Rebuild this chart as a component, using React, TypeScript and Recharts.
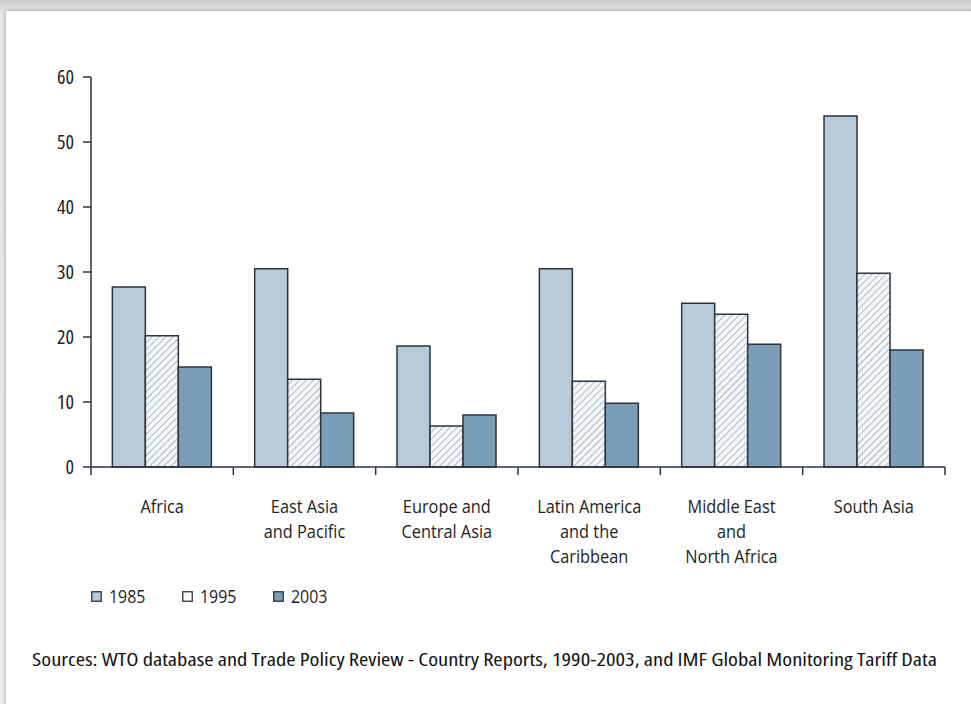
import React from "react";
import { BarChart, Bar, XAxis, YAxis, Legend } from "recharts";

const categories = ["Africa", "East Asia and Pacific", "Europe and Central Asia", "Latin America and the Caribbean", "Middle East and North Africa", "South Asia"];
const categoryLabelLines = [
  ["Africa"],
  ["East Asia", "and Pacific"],
  ["Europe and", "Central Asia"],
  ["Latin America", "and the", "Caribbean"],
  ["Middle East", "and", "North Africa"],
  ["South Asia"],
];
const series1985 = [27.7, 30.5, 18.6, 30.5, 25.2, 54.0];
const series1995 = [20.2, 13.5, 6.3, 13.2, 23.5, 29.8];
const series2003 = [15.4, 8.3, 8.0, 9.8, 18.9, 18.0];
const yTicks = [0, 10, 20, 30, 40, 50, 60];
const sourceText = "Sources: WTO database and Trade Policy Review - Country Reports, 1990-2003, and IMF Global Monitoring Tariff Data";

const data = categories.map((name, i) => ({
  name,
  y1985: series1985[i],
  y1995: series1995[i],
  y2003: series2003[i],
}));

const FONT = "'Open Sans', 'DejaVu Sans', sans-serif";
const STROKE = "#2b333c";

const CatTick = (props: any) => {
  const { x, y, payload, index } = props;
  const lines = categoryLabelLines[index] || [payload.value];
  const half = payload.offset || 0;
  return (
    <g>
      <line x1={x - half} x2={x - half} y1={y} y2={y + 8} stroke={STROKE} strokeWidth={1.5} />
      {index === categories.length - 1 && (
        <line x1={x + half} x2={x + half} y1={y} y2={y + 8} stroke={STROKE} strokeWidth={1.5} />
      )}
      <g transform={`translate(${x},${y}) scale(0.86,1)`}>
        {lines.map((l: string, k: number) => (
          <text key={k} x={0} y={46 + k * 25} textAnchor="middle" fill="#1e1e1e" fontSize={19} fontFamily={FONT}>
            {l}
          </text>
        ))}
      </g>
    </g>
  );
};

const legendItems = [
  { key: "1985", fill: "#b8cad8" },
  { key: "1995", fill: "#ffffff" },
  { key: "2003", fill: "#7b9eb6" },
];

const LegendContent = () => (
  <svg width={300} height={30} style={{ display: "block", overflow: "visible" }}>
    {legendItems.map((it, i) => (
      <g key={it.key} transform={`translate(${i * 91},0)`}>
        <rect x={0.75} y={7.75} width={9.5} height={9.5} fill={it.fill} stroke={STROKE} strokeWidth={1.3} />
        <g transform="translate(18,19) scale(0.84,1)">
          <text x={0} y={0} fontSize={19} fontFamily={FONT} fill="#1e1e1e">{it.key}</text>
        </g>
      </g>
    ))}
  </svg>
);

export default function App() {
  return (
    <div style={{ position: "absolute", left: 0, top: 0, width: 971, height: 704, overflow: "hidden", background: "linear-gradient(to bottom, #c9c9c9 0px, #e4e4e4 11px, #ededed 100%)" }}>
      <div style={{ position: "absolute", left: 6, top: 11, width: 1000, height: 720, background: "#ffffff", boxShadow: "0 0 4px rgba(0,0,0,0.35)" }} />
      <svg width={0} height={0} style={{ position: "absolute" }}>
        <defs>
          <pattern id="hatch1995" patternUnits="userSpaceOnUse" width={5} height={5} patternTransform="rotate(45)">
            <rect width={5} height={5} fill="#f4f7fa" />
            <line x1={0} y1={0} x2={0} y2={5} stroke="#9fb2c2" strokeWidth={1.8} />
          </pattern>
        </defs>
      </svg>
      <div style={{ position: "absolute", left: 0, top: 0 }}>
        <BarChart
          width={971}
          height={644}
          data={data}
          margin={{ top: 77, right: 26, left: 31, bottom: 0 }}
          barCategoryGap="15%"
          barGap={0}
        >
          <XAxis
            dataKey="name"
            axisLine={{ stroke: STROKE, strokeWidth: 1.5 }}
            tickLine={false}
            tickSize={0}
            tickMargin={0}
            tick={<CatTick />}
            interval={0}
            height={153}
          />
          <YAxis
            domain={[0, 60]}
            ticks={yTicks}
            width={60}
            axisLine={{ stroke: STROKE, strokeWidth: 1.5 }}
            tickLine={{ stroke: STROKE, strokeWidth: 1.5 }}
            tickSize={8}
            tickMargin={9}
            tick={{ fill: "#1e1e1e", fontSize: 20, style: { fontFamily: FONT, fontStretch: "80%" } }}
          />
          <Legend
            content={<LegendContent />}
            wrapperStyle={{ position: "absolute", left: 91, top: 584, width: 300, height: 24, overflow: "visible" }}
          />
          <Bar dataKey="y1985" name="1985" fill="#b8cad8" stroke={STROKE} strokeWidth={1.5} isAnimationActive={false} />
          <Bar dataKey="y1995" name="1995" fill="url(#hatch1995)" stroke={STROKE} strokeWidth={1.5} isAnimationActive={false} />
          <Bar dataKey="y2003" name="2003" fill="#7b9eb6" stroke={STROKE} strokeWidth={1.5} isAnimationActive={false} />
        </BarChart>
      </div>
      <svg width={971} height={30} style={{ position: "absolute", left: 0, top: 645 }}>
        <text x={32} y={21} fontSize={18} fontFamily={FONT} style={{ fontStretch: "75%" }} fill="#111" textLength={905} lengthAdjust="spacingAndGlyphs">
          {sourceText}
        </text>
      </svg>
    </div>
  );
}
